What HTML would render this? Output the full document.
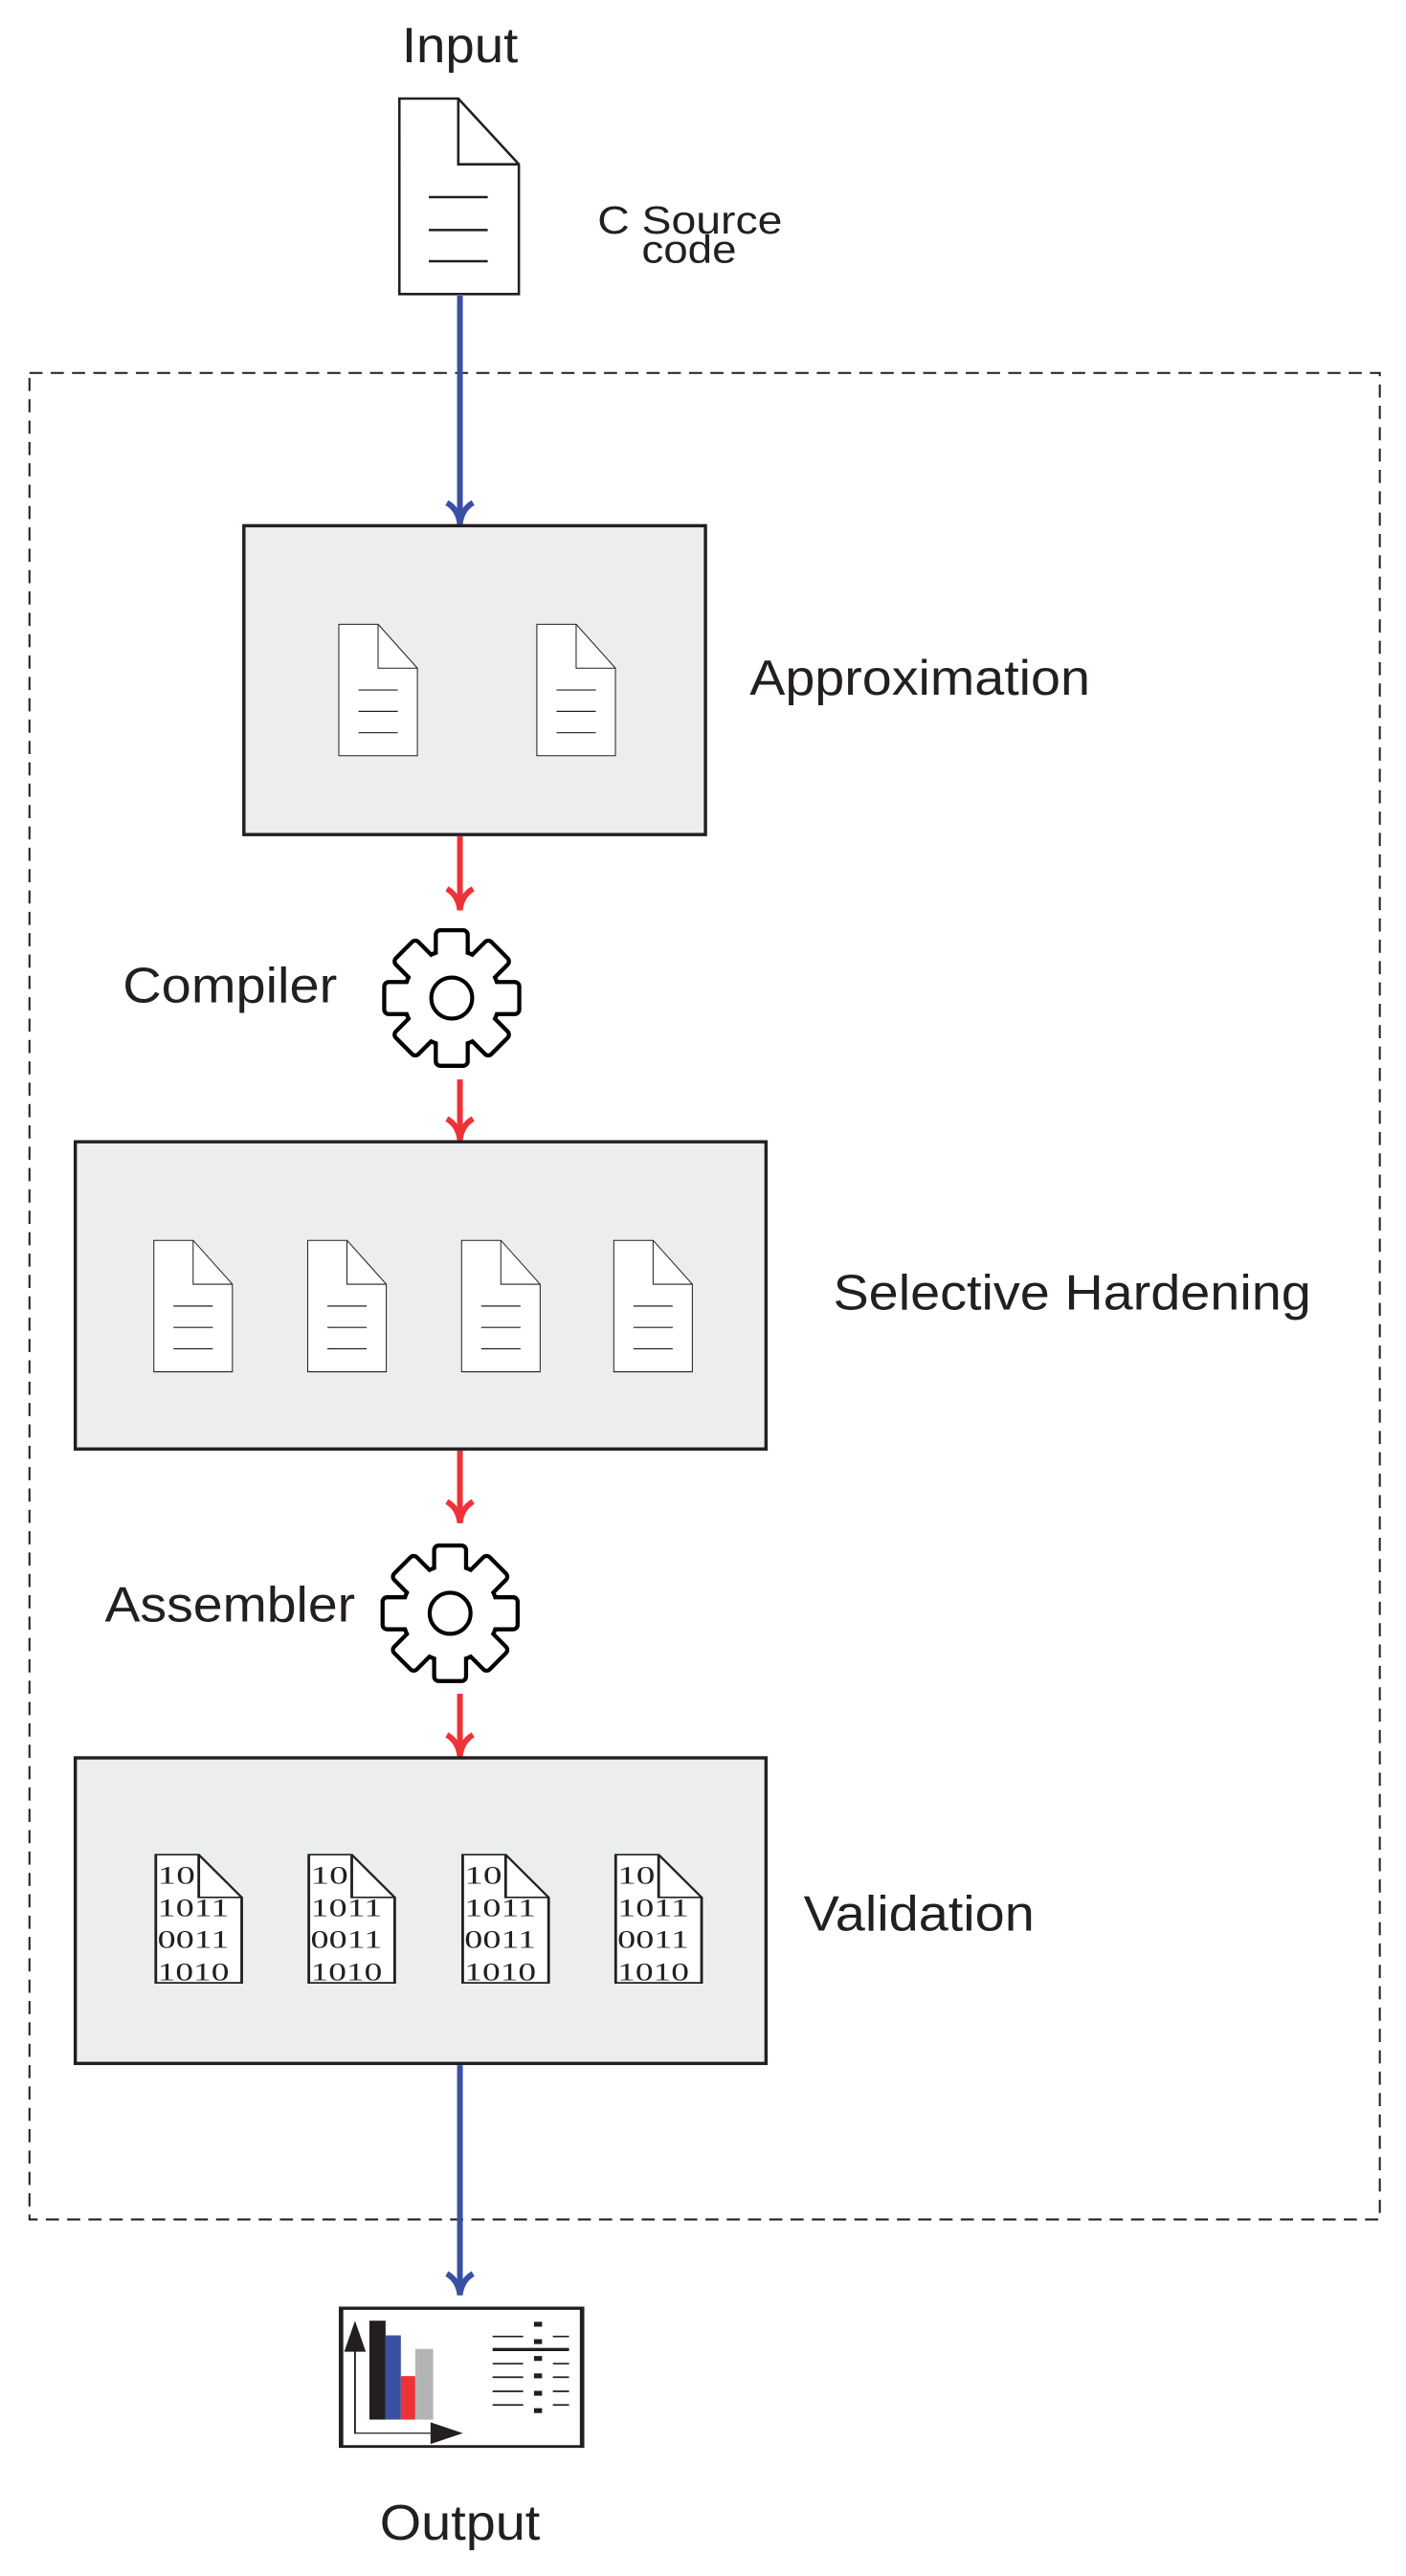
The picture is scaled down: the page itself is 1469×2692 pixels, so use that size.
<!DOCTYPE html>
<html><head><meta charset="utf-8"><style>
html,body{margin:0;padding:0;background:#fff;}
svg{display:block;}
text{font-family:"Liberation Sans",sans-serif;fill:#231f20;}
text.serif{font-family:"Liberation Serif",serif;}
</style></head><body>
<svg width="1469" height="2692" viewBox="0 0 859 1568" preserveAspectRatio="none" xmlns="http://www.w3.org/2000/svg">
<defs>
<g id="ldoc">
<path d="M0 0 H24 L48 26.7 V80 H0 Z" fill="#fff" stroke="#231f20" stroke-width="0.6"/>
<path d="M24 0 V26.7 H48" fill="none" stroke="#231f20" stroke-width="0.6"/>
<path d="M12 40 H36 M12 53 H36 M12 66 H36" stroke="#231f20" stroke-width="0.7"/>
</g>
<g id="gear">
<g stroke="#000" stroke-width="5" stroke-linejoin="round">
<circle r="28" fill="#fff"/>
<rect x="-8.5" y="-40" width="17" height="80" rx="1.5" fill="#fff"/>
<rect x="-8.5" y="-40" width="17" height="80" rx="1.5" fill="#fff" transform="rotate(45)"/>
<rect x="-8.5" y="-40" width="17" height="80" rx="1.5" fill="#fff" transform="rotate(90)"/>
<rect x="-8.5" y="-40" width="17" height="80" rx="1.5" fill="#fff" transform="rotate(135)"/>
</g>
<g fill="#fff">
<circle r="28"/>
<rect x="-8.5" y="-40" width="17" height="80" rx="1.5"/>
<rect x="-8.5" y="-40" width="17" height="80" rx="1.5" transform="rotate(45)"/>
<rect x="-8.5" y="-40" width="17" height="80" rx="1.5" transform="rotate(90)"/>
<rect x="-8.5" y="-40" width="17" height="80" rx="1.5" transform="rotate(135)"/>
</g>
<circle r="12.5" fill="#fff" stroke="#000" stroke-width="2.4"/>
</g>
<g id="bdoc">
<path d="M175 244 H223 L271 323 V481 H175 Z" fill="#fff" stroke="#231f20" stroke-width="3"/>
<path d="M223 244 V323 H271" fill="none" stroke="#231f20" stroke-width="3"/>
<g font-size="46">
<text class="serif" x="177" y="298" textLength="42" lengthAdjust="spacingAndGlyphs">10</text>
<text class="serif" x="177" y="358" textLength="80" lengthAdjust="spacingAndGlyphs">1011</text>
<text class="serif" x="177" y="416" textLength="80" lengthAdjust="spacingAndGlyphs">0011</text>
<text class="serif" x="177" y="476" textLength="80" lengthAdjust="spacingAndGlyphs">1010</text>
</g>
</g>
</defs>

<rect x="18" y="227" width="825" height="1124" fill="none" stroke="#231f20" stroke-width="1.2" stroke-dasharray="8 5"/>

<text x="281" y="38" font-size="30" text-anchor="middle" textLength="71" lengthAdjust="spacingAndGlyphs">Input</text>
<path d="M244 60 H280 L317 100 V179 H244 Z" fill="#fff" stroke="#231f20" stroke-width="1.5"/>
<path d="M280 60 V100 H317" fill="none" stroke="#231f20" stroke-width="1.5"/>
<path d="M262 120 H298 M262 140 H298 M262 159 H298" stroke="#231f20" stroke-width="1.5"/>
<text x="365" y="142" font-size="24" textLength="113" lengthAdjust="spacingAndGlyphs">C Source</text>
<text x="392" y="160" font-size="24" textLength="58" lengthAdjust="spacingAndGlyphs">code</text>

<line x1="281" y1="180" x2="281" y2="318" stroke="#3b50a3" stroke-width="3.5"/>
<path d="M273 306 Q280 310 281 319 Q282 310 289 306" fill="none" stroke="#3b50a3" stroke-width="3.5"/>

<rect x="149" y="320" width="282" height="188" fill="#eceeed" stroke="#231f20" stroke-width="2"/>
<use href="#ldoc" x="207" y="380"/>
<use href="#ldoc" x="328" y="380"/>
<text x="458" y="423" font-size="30" textLength="208" lengthAdjust="spacingAndGlyphs">Approximation</text>

<line x1="281" y1="509" x2="281" y2="552" stroke="#ee3338" stroke-width="3.5"/>
<path d="M273 541 Q280 545 281 554 Q282 545 289 541" fill="none" stroke="#ee3338" stroke-width="3.5"/>

<use href="#gear" transform="translate(276,607.5)"/>
<text x="75" y="610" font-size="30" textLength="131" lengthAdjust="spacingAndGlyphs">Compiler</text>

<line x1="281" y1="657" x2="281" y2="692" stroke="#ee3338" stroke-width="3.5"/>
<path d="M273 681 Q280 685 281 694 Q282 685 289 681" fill="none" stroke="#ee3338" stroke-width="3.5"/>

<rect x="46" y="695" width="422" height="187" fill="#eceeed" stroke="#231f20" stroke-width="2"/>
<use href="#ldoc" x="94" y="755"/>
<use href="#ldoc" x="188" y="755"/>
<use href="#ldoc" x="282" y="755"/>
<use href="#ldoc" x="375" y="755"/>
<text x="509" y="797" font-size="30" textLength="292" lengthAdjust="spacingAndGlyphs">Selective Hardening</text>

<line x1="281" y1="883" x2="281" y2="925" stroke="#ee3338" stroke-width="3.5"/>
<path d="M273 914 Q280 918 281 927 Q282 918 289 914" fill="none" stroke="#ee3338" stroke-width="3.5"/>

<use href="#gear" transform="translate(275,982)"/>
<text x="64" y="987" font-size="30" textLength="153" lengthAdjust="spacingAndGlyphs">Assembler</text>

<line x1="281" y1="1031" x2="281" y2="1067" stroke="#ee3338" stroke-width="3.5"/>
<path d="M273 1056 Q280 1060 281 1069 Q282 1060 289 1056" fill="none" stroke="#ee3338" stroke-width="3.5"/>

<rect x="46" y="1070" width="422" height="186" fill="#eceeed" stroke="#231f20" stroke-width="2"/>
<svg x="46" y="1070" width="422" height="186" viewBox="85 65 772 565" preserveAspectRatio="none">
<use href="#bdoc"/>
<use href="#bdoc" x="171"/>
<use href="#bdoc" x="343"/>
<use href="#bdoc" x="514"/>
</svg>
<text x="491" y="1175" font-size="30" textLength="141" lengthAdjust="spacingAndGlyphs">Validation</text>

<line x1="281" y1="1257" x2="281" y2="1395" stroke="#3b50a3" stroke-width="3.5"/>
<path d="M273 1384 Q280 1388 281 1397 Q282 1388 289 1384" fill="none" stroke="#3b50a3" stroke-width="3.5"/>

<svg x="207" y="1404" width="150" height="86" viewBox="380 1072 273 260" preserveAspectRatio="none">
<rect x="382" y="1075" width="269" height="255" fill="#fff" stroke="#231f20" stroke-width="6"/>
<rect x="414" y="1098" width="18" height="182" fill="#231f20"/>
<rect x="432" y="1125" width="17" height="155" fill="#3b50a3"/>
<rect x="449" y="1200" width="16" height="80" fill="#ee3338"/>
<rect x="465" y="1150" width="20" height="130" fill="#b3b4b6"/>
<path d="M398 1110 V1305 H490" fill="none" stroke="#231f20" stroke-width="2"/>
<path d="M386 1155 L398 1098 L410 1155 Z" fill="#231f20"/>
<path d="M482 1285 L518 1305 L482 1325 Z" fill="#231f20"/>
<g stroke="#231f20" stroke-width="3">
<path d="M551 1127 H585 M551 1177 H585 M551 1202 H585 M551 1228 H585 M551 1253 H585"/>
<path d="M618 1127 H636 M618 1177 H636 M618 1202 H636 M618 1228 H636 M618 1253 H636"/>
<path d="M551 1151 H636" stroke-width="6"/>
</g>
<g fill="#231f20">
<rect x="597" y="1100" width="9" height="9"/><rect x="597" y="1132" width="9" height="9"/>
<rect x="597" y="1163" width="9" height="9"/><rect x="597" y="1195" width="9" height="9"/>
<rect x="597" y="1227" width="9" height="9"/><rect x="597" y="1259" width="9" height="9"/>
</g>
</svg>
<text x="281" y="1546" font-size="30" text-anchor="middle" textLength="98" lengthAdjust="spacingAndGlyphs">Output</text>
</svg>
</body></html>
